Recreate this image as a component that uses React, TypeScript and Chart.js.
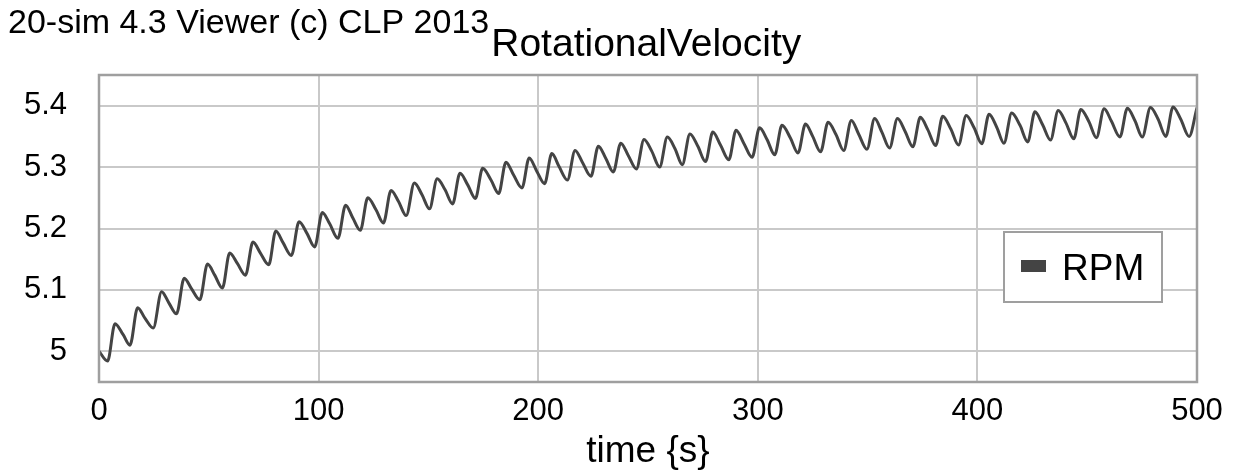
import React, { useEffect, useRef } from "react";
import { Chart, registerables } from "chart.js";

Chart.register(...registerables);

const timeValues: number[] = [
  0, 3.9, 7.3, 11.0, 14.1, 17.6, 20.9, 24.7, 28.5, 31.8, 35.3, 38.8, 42.1, 45.9, 49.4, 52.7,
  56.2, 59.5, 63.0, 66.7, 70.1, 73.5, 77.3, 80.5, 83.8, 87.6, 91.1, 94.7, 98.2, 101.7, 105.0,
  108.8, 112.3, 115.6, 119.0, 122.4, 126.2, 129.5, 133.0, 136.4, 139.9, 143.6, 147.1, 150.5,
  154.0, 157.6, 161.0, 164.4, 167.9, 171.4, 174.7, 178.5, 182.0, 185.3, 188.8, 192.6, 195.9,
  199.4, 202.9, 206.2, 209.5, 213.3, 216.8, 220.1, 224.0, 227.4, 230.8, 234.2, 237.6, 241.0,
  244.7, 248.2, 251.7, 255.3, 258.8, 262.3, 265.6, 269.1, 272.7, 276.2, 279.5, 283.0, 286.8,
  290.1, 293.6, 297.4, 300.8, 304.2, 307.7, 311.0, 314.9, 318.3, 321.7, 325.0, 328.6, 332.0,
  335.6, 339.1, 342.6, 345.9, 349.7, 353.2, 356.5, 360.0, 363.6, 367.1, 370.6, 374.0, 377.4,
  381.0, 384.2, 387.9, 391.4, 394.9, 398.5, 402.0, 405.3, 408.8, 412.1, 415.6, 419.4, 422.9,
  426.2, 429.7, 433.3, 436.8, 440.3, 443.9, 447.1, 450.8, 454.2, 457.7, 461.0, 464.9, 468.3,
  471.7, 475.1, 478.8, 482.3, 485.8, 489.1, 492.6, 496.4, 500.0,
];

const rpmValues: number[] = [
  5.000, 4.984, 5.045, 5.027, 5.010, 5.071, 5.054, 5.038, 5.097, 5.079, 5.061, 5.119, 5.102,
  5.084, 5.142, 5.124, 5.103, 5.160, 5.143, 5.124, 5.178, 5.160, 5.141, 5.196, 5.177, 5.156,
  5.211, 5.192, 5.170, 5.226, 5.208, 5.184, 5.238, 5.217, 5.197, 5.250, 5.230, 5.209, 5.262,
  5.244, 5.221, 5.274, 5.255, 5.232, 5.281, 5.263, 5.240, 5.290, 5.271, 5.249, 5.298, 5.279,
  5.257, 5.308, 5.287, 5.266, 5.315, 5.293, 5.273, 5.322, 5.301, 5.279, 5.327, 5.308, 5.285,
  5.334, 5.314, 5.292, 5.339, 5.319, 5.297, 5.345, 5.326, 5.300, 5.349, 5.330, 5.304, 5.354,
  5.334, 5.309, 5.357, 5.336, 5.312, 5.360, 5.339, 5.316, 5.364, 5.345, 5.320, 5.368, 5.347,
  5.323, 5.370, 5.350, 5.325, 5.373, 5.353, 5.327, 5.376, 5.354, 5.329, 5.379, 5.357, 5.331,
  5.379, 5.358, 5.333, 5.381, 5.361, 5.335, 5.383, 5.362, 5.336, 5.384, 5.364, 5.338, 5.386,
  5.365, 5.339, 5.388, 5.368, 5.341, 5.390, 5.369, 5.344, 5.392, 5.372, 5.346, 5.394, 5.374,
  5.348, 5.395, 5.375, 5.349, 5.396, 5.376, 5.349, 5.397, 5.378, 5.350, 5.398, 5.378, 5.350,
  5.397,
];

const xTicks: number[] = [0, 100, 200, 300, 400, 500];
const yTicks: number[] = [5.0, 5.1, 5.2, 5.3, 5.4];
const yTickLabels: string[] = ["5", "5.1", "5.2", "5.3", "5.4"];

const titleMain = "20-sim 4.3 Viewer (c) CLP 2013";
const titleSub = "RotationalVelocity";
const xAxisTitle = "time {s}";
const seriesLabel = "RPM";

const FONT = '"Liberation Sans", Arial, sans-serif';
const LINE_COLOR = "#444444";
const GRID_COLOR = "#c9c9c9";
const FRAME_COLOR = "#9f9f9f";

const decorPlugin = {
  id: "decor",
  afterDatasetsDraw(chart: any) {
    const { ctx, chartArea } = chart;
    ctx.save();
    // frame
    ctx.strokeStyle = FRAME_COLOR;
    ctx.lineWidth = 2.5;
    ctx.strokeRect(chartArea.left, chartArea.top, chartArea.right - chartArea.left, chartArea.bottom - chartArea.top);

    // legend
    const lx = 1004, ly = 232, lw = 158, lh = 70;
    ctx.fillStyle = "#ffffff";
    ctx.fillRect(lx, ly, lw, lh);
    ctx.strokeStyle = FRAME_COLOR;
    ctx.lineWidth = 2;
    ctx.strokeRect(lx, ly, lw, lh);
    ctx.fillStyle = LINE_COLOR;
    ctx.fillRect(lx + 17, ly + 28, 25, 12);
    ctx.fillStyle = "#000000";
    ctx.font = `37px ${FONT}`;
    ctx.textBaseline = "alphabetic";
    ctx.textAlign = "left";
    ctx.fillText(chart.data.datasets[0].label, lx + 58, ly + 48);

    // title
    ctx.font = `34px ${FONT}`;
    ctx.fillText(titleMain, 8, 33);
    const w = ctx.measureText(titleMain).width;
    ctx.font = `39px ${FONT}`;
    ctx.fillText(titleSub, 8 + w + 2, 56);

    // x axis title
    ctx.font = `37px ${FONT}`;
    ctx.textAlign = "center";
    ctx.fillText(xAxisTitle, (chartArea.left + chartArea.right) / 2, 462);
    ctx.restore();
  },
};

export default function App() {
  const ref = useRef<HTMLCanvasElement | null>(null);
  useEffect(() => {
    if (!ref.current) return;
    const points = timeValues.map((t, i) => ({ x: t, y: rpmValues[i] }));
    const chart = new Chart(ref.current, {
      type: "line",
      data: {
        datasets: [
          {
            label: seriesLabel,
            data: points,
            borderColor: LINE_COLOR,
            borderWidth: 3,
            pointRadius: 0,
            cubicInterpolationMode: "monotone",
            fill: false,
          },
        ],
      },
      options: {
        animation: false,
        responsive: false,
        devicePixelRatio: 1,
        layout: { padding: { top: 75, right: 39, left: 0, bottom: 0 } },
        plugins: { legend: { display: false }, title: { display: false }, tooltip: { enabled: false } },
        scales: {
          x: {
            type: "linear",
            min: 0,
            max: 500,
            afterBuildTicks: (scale: any) => {
              scale.ticks = xTicks.map((v) => ({ value: v }));
            },
            afterFit: (scale: any) => {
              scale.height = 91;
            },
            grid: { color: GRID_COLOR, lineWidth: 2, drawTicks: false },
            border: { display: false },
            ticks: {
              color: "#000",
              font: { family: FONT, size: 31 },
              padding: 11,
              maxRotation: 0,
              autoSkip: false,
              callback: (v: any) => String(v),
            },
          },
          y: {
            type: "linear",
            min: 4.95,
            max: 5.45,
            afterBuildTicks: (scale: any) => {
              scale.ticks = yTicks.map((v) => ({ value: v }));
            },
            afterFit: (scale: any) => {
              scale.width = 99;
            },
            grid: { color: GRID_COLOR, lineWidth: 2, drawTicks: false },
            border: { display: false },
            ticks: {
              color: "#000",
              font: { family: FONT, size: 31 },
              padding: 32,
              autoSkip: false,
              callback: (v: any) => {
                const i = yTicks.findIndex((t) => Math.abs(t - v) < 1e-9);
                return i >= 0 ? yTickLabels[i] : "";
              },
            },
          },
        },
      },
      plugins: [decorPlugin],
    });
    return () => chart.destroy();
  }, []);
  return (
    <div style={{ position: "absolute", left: 0, top: 0, width: 1236, height: 473, background: "#fff" }}>
      <canvas ref={ref} width={1236} height={473} />
    </div>
  );
}
